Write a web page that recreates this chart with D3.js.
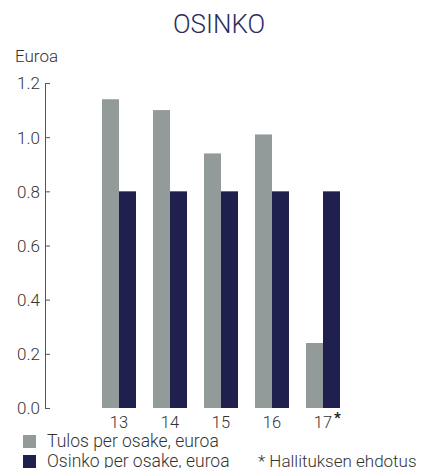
<!DOCTYPE html>
<html lang="fi">
<head>
<meta charset="utf-8">
<title>Osinko</title>
<style>
  body { margin: 0; background: #fff; }
  svg text { font-family: Roboto, "Open Sans", sans-serif; font-weight: 300; }
</style>
<script src="https://d3js.org/d3.v7.min.js"></script>
</head>
<body>
<svg width="431" height="468"></svg>
<script>
// data
var years = ["13", "14", "15", "16", "17"];
var tulos = [1.14, 1.10, 0.94, 1.01, 0.24];
var osinko = [0.80, 0.80, 0.80, 0.80, 0.80];
var yTicks = [0, 0.2, 0.4, 0.6, 0.8, 1.0, 1.2];
var seriesNames = ["Tulos per osake, euroa", "Osinko per osake, euroa"];
var colors = ["#939a9a", "#20204f"];

var svg = d3.select("svg");

var y = d3.scaleLinear().domain([0, 1.2]).range([408, 83]);
var x = d3.scaleBand().domain(years).range([85, 357])
    .paddingInner(1 / 3).paddingOuter(1 / 3);
var x1 = d3.scaleBand().domain([0, 1]).range([0, x.bandwidth()]);

// title
svg.append("text")
    .attr("x", 219).attr("y", 33)
    .attr("text-anchor", "middle")
    .attr("fill", "#2b2b5e")
    .style("font-size", "26px")
    .text("OSINKO");

svg.append("text")
    .attr("x", 15).attr("y", 62)
    .attr("fill", "#333")
    .style("font-size", "17px")
    .text("Euroa");

// y axis
var yAxis = svg.append("g")
    .attr("transform", "translate(45,0)")
    .call(d3.axisRight(y).tickValues(yTicks).tickSize(5)
        .tickFormat(d3.format(".1f")));
yAxis.select(".domain").attr("stroke", "#555");
yAxis.selectAll(".tick line").attr("stroke", "#555");
yAxis.selectAll(".tick text")
    .attr("x", -5)
    .attr("dy", "0.35em")
    .attr("text-anchor", "end")
    .attr("fill", "#333")
    .style("font-size", "17px");

// bars
var groups = svg.append("g").selectAll("g")
    .data(years)
    .enter().append("g")
    .attr("transform", function(d) { return "translate(" + x(d) + ",0)"; });

groups.append("rect")
    .attr("x", x1(0))
    .attr("width", x1.bandwidth())
    .attr("y", function(d, i) { return y(tulos[i]); })
    .attr("height", function(d, i) { return y(0) - y(tulos[i]); })
    .attr("fill", colors[0]);

groups.append("rect")
    .attr("x", x1(1))
    .attr("width", x1.bandwidth())
    .attr("y", function(d, i) { return y(osinko[i]); })
    .attr("height", function(d, i) { return y(0) - y(osinko[i]); })
    .attr("fill", colors[1]);

// x labels
groups.append("text")
    .attr("x", x.bandwidth() / 2)
    .attr("y", 428)
    .attr("text-anchor", "middle")
    .attr("fill", "#333")
    .style("font-size", "16.5px")
    .text(function(d) { return d; });

svg.append("text")
    .attr("x", x(years[4]) + x.bandwidth() / 2 + 11)
    .attr("y", 423)
    .attr("fill", "#222")
    .style("font-size", "15px")
    .style("font-weight", "700")
    .text("*");

// legend
var legend = svg.append("g").selectAll("g")
    .data(seriesNames)
    .enter().append("g")
    .attr("transform", function(d, i) { return "translate(23," + (435 + i * 20) + ")"; });

legend.append("rect")
    .attr("width", 13).attr("height", 13)
    .attr("fill", function(d, i) { return colors[i]; });

legend.append("text")
    .attr("x", 24).attr("y", 12)
    .attr("fill", "#333")
    .style("font-size", "17.5px")
    .text(function(d) { return d; });

svg.append("text")
    .attr("x", 258).attr("y", 467)
    .attr("fill", "#333")
    .style("font-size", "17px")
    .text("* Hallituksen ehdotus");
</script>
</body>
</html>
